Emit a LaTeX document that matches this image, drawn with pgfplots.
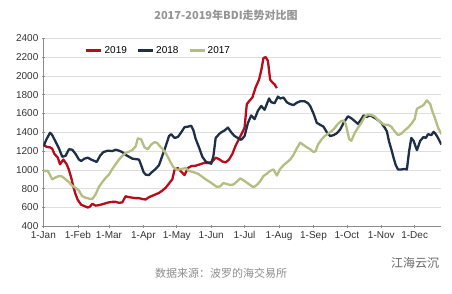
\documentclass[border=0pt]{standalone}
\usepackage{fontspec}
\setmainfont{Liberation Sans}
\newfontfamily\cjk{Noto Sans CJK SC}
\usepackage{pgfplots}
\pgfplotsset{compat=1.18}
\definecolor{c19}{HTML}{B80C1C}
\definecolor{c18}{HTML}{1F2F47}
\definecolor{c17}{HTML}{B3BE80}
\definecolor{titlegray}{HTML}{959595}
\begin{document}
\begin{tikzpicture}[x=1pt,y=1pt]
\path[use as bounding box] (0,0) rectangle (452,294);
\begin{axis}[
  at={(39,72)}, anchor=south west,
  scale only axis, width=398pt, height=188pt,
  xmin=0, xmax=358, ymin=400, ymax=2400,
  ytick={400,600,...,2400},
  xtick={0,31,59,90,120,151,181,212,243,273,304,334},
  xticklabels={1-Jan,1-Feb,1-Mar,1-Apr,1-May,1-Jun,1-Jul,1-Aug,1-Sep,1-Oct,1-Nov,1-Dec},
  axis x line=bottom, axis y line=left,
  axis line style={-, draw=black!45, line width=0.6pt},
  ymajorgrids, grid style={black!13, line width=0.6pt},
  tick style={black!45, line width=0.6pt}, major tick length=3pt,
  tick align=center,
  /pgf/number format/assume math mode=true,
  /pgf/number format/set thousands separator={},
  tick label style={font=\fontsize{10}{12}\selectfont, text=black!80},
  legend style={at={(0.105,0.936)}, anchor=west, draw=none, fill=none, inner sep=0pt,
    font=\fontsize{10}{12}\selectfont, legend columns=3,
    /tikz/every even column/.append style={column sep=8pt}},
  legend image code/.code={\draw[#1] (0pt,0pt) -- (15pt,0pt);},
  every axis plot/.append style={line width=2.3pt, line join=round},
]
\addplot[c19] coordinates {
(0,1270)(3,1245)(6,1240)(8,1225)(10,1170)(13,1130)(15,1060)(18,1110)(21,1060)(23,1000)
(25,920)(27,820)(29,740)(31,680)(34,630)(37,615)(40,600)(42,610)(44,640)(47,620)
(50,625)(53,635)(56,645)(59,655)(62,660)(65,660)(68,650)(71,655)(74,720)(77,710)
(80,705)(83,700)(86,700)(89,690)(92,685)(95,710)(98,725)(101,740)(104,755)(107,780)
(110,810)(113,855)(116,900)(118,1000)(121,1020)(124,980)(127,945)(130,1020)(133,1040)
(137,1045)(141,1060)(145,1075)(149,1075)(152,1090)(155,1130)(158,1115)(161,1090)
(164,1080)(167,1110)(170,1170)(173,1260)(176,1330)(179,1400)(181,1450)(183,1700)
(185,1730)(188,1770)(191,1880)(194,1960)(196,2060)(198,2190)(200,2200)(202,2160)
(204,1960)(206,1930)(208,1910)(210,1870)
};
\addlegendentry{2019}
\addplot[c18] coordinates {
(0,1250)(3,1330)(6,1395)(8,1370)(11,1300)(14,1230)(17,1140)(20,1150)(23,1220)(26,1215)
(29,1170)(32,1110)(34,1095)(37,1120)(40,1130)(43,1110)(46,1095)(48,1085)(51,1150)
(54,1190)(58,1205)(62,1200)(65,1215)(68,1205)(71,1190)(74,1160)(77,1140)(80,1120)
(83,1115)(86,1110)(88,1050)(90,980)(92,950)(95,945)(98,980)(101,1010)(104,1050)
(107,1150)(110,1250)(113,1360)(115,1380)(118,1340)(121,1350)(124,1400)(127,1455)
(130,1460)(133,1470)(135,1420)(137,1330)(140,1240)(143,1140)(146,1090)(149,1075)
(151,1065)(153,1150)(155,1340)(158,1380)(160,1400)(163,1420)(166,1450)(169,1400)
(172,1360)(175,1340)(178,1320)(181,1360)(184,1500)(187,1580)(190,1540)(193,1630)
(196,1680)(199,1640)(201,1700)(203,1760)(205,1720)(208,1710)(211,1780)(213,1760)
(216,1770)(219,1720)(222,1700)(225,1690)(228,1715)(231,1730)(235,1730)(238,1710)
(240,1680)(243,1600)(246,1500)(249,1480)(252,1460)(255,1400)(258,1360)(261,1370)
(264,1390)(267,1430)(270,1500)(274,1570)(277,1550)(280,1520)(283,1490)(286,1540)
(288,1580)(291,1565)(294,1580)(297,1560)(300,1540)(304,1500)(307,1450)(309,1410)
(311,1300)(313,1220)(315,1130)(317,1050)(319,1005)(322,1005)(325,1010)(327,1005)
(329,1200)(331,1340)(333,1310)(336,1210)(339,1310)(342,1350)(344,1340)(346,1380)
(349,1370)(351,1405)(353,1380)(355,1340)(358,1270)
};
\addlegendentry{2018}
\addplot[c17] coordinates {
(0,990)(4,990)(8,900)(11,920)(14,935)(17,930)(20,900)(23,870)(26,830)(29,810)
(32,780)(35,720)(38,705)(41,695)(44,690)(47,740)(50,820)(53,870)(56,915)(59,950)
(62,1010)(65,1060)(68,1110)(71,1150)(74,1180)(77,1195)(80,1210)(83,1250)(85,1335)
(88,1325)(91,1240)(94,1220)(97,1270)(100,1295)(102,1290)(105,1250)(108,1210)(111,1160)
(114,1090)(117,1030)(120,1000)(124,1010)(128,1020)(131,990)(135,975)(139,960)(142,935)
(146,900)(150,870)(153,845)(156,820)(159,825)(162,860)(165,850)(168,840)(171,845)
(174,875)(177,910)(180,890)(183,865)(186,840)(189,815)(192,840)(195,880)(198,935)
(201,960)(204,990)(207,1005)(210,940)(213,1010)(216,1050)(219,1080)(222,1110)(225,1160)
(228,1230)(231,1290)(234,1265)(237,1240)(240,1220)(243,1190)(245,1200)(247,1270)
(250,1320)(253,1360)(256,1385)(259,1410)(262,1445)(265,1490)(268,1520)(270,1525)
(272,1490)(275,1330)(277,1310)(280,1390)(283,1450)(286,1500)(289,1565)(292,1590)
(295,1585)(298,1570)(301,1530)(304,1500)(307,1480)(310,1480)(313,1460)(316,1410)
(319,1370)(322,1385)(325,1420)(328,1450)(331,1490)(334,1540)(336,1650)(339,1670)
(342,1690)(345,1740)(348,1700)(350,1620)(352,1560)(355,1450)(358,1380)
};
\addlegendentry{2017}
\end{axis}
\node[text=titlegray, font=\cjk\bfseries\fontsize{11}{13}\selectfont] at (226,279) {2017-2019年BDI走势对比图};
\node[text=black!45, font=\cjk\fontsize{11}{13}\selectfont] at (221,21) {数据来源：波罗的海交易所};
\node[text=black!60, font=\cjk\fontsize{12}{14}\selectfont] at (415,31) {江海云沉};
\end{tikzpicture}
\end{document}
